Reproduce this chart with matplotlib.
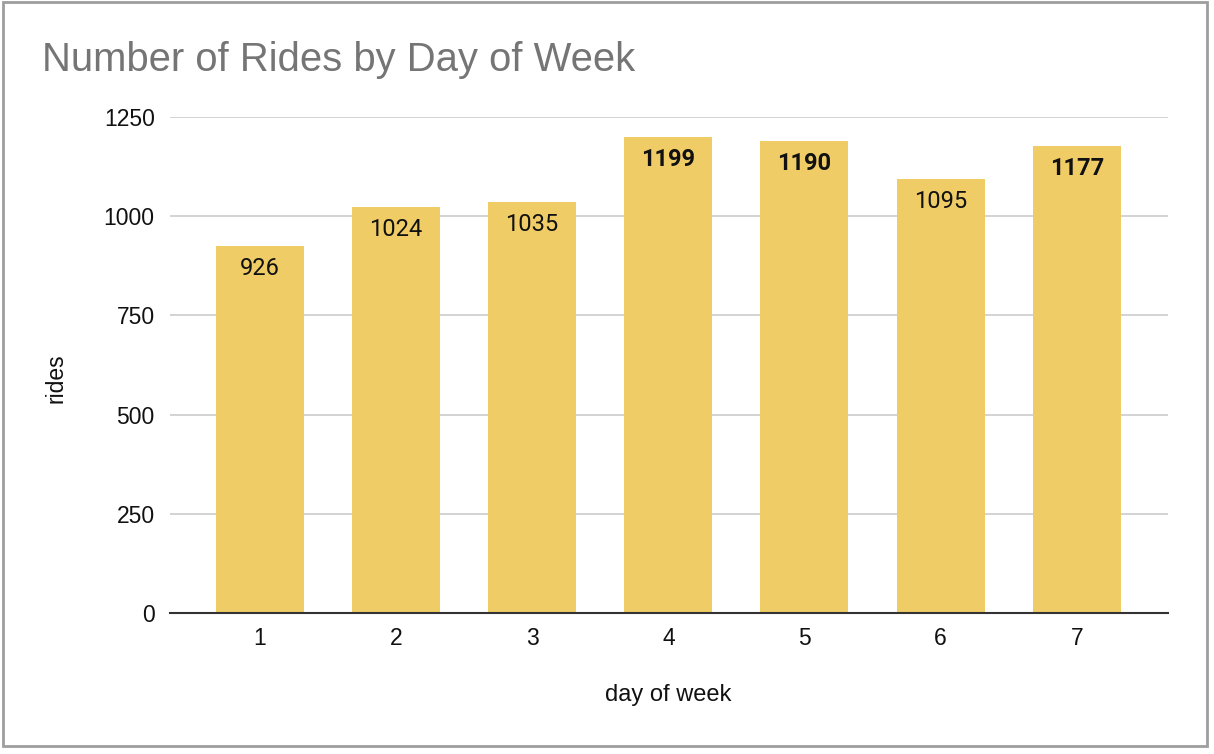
import matplotlib
matplotlib.use("Agg")
import matplotlib.pyplot as plt
from matplotlib.patches import Rectangle

days = ["1", "2", "3", "4", "5", "6", "7"]
rides = [926, 1024, 1035, 1199, 1190, 1095, 1177]
bold_labels = [False, False, False, True, True, False, True]
yticks = [0, 250, 500, 750, 1000, 1250]

W, H = 1214, 754
fig = plt.figure(figsize=(W / 100, H / 100), dpi=100)
fig.patch.set_facecolor("white")

ax = fig.add_axes([170 / W, 1 - 613 / H, (1168 - 170) / W, (613 - 117) / H])
x = list(range(1, len(days) + 1))
ax.bar(x, rides, width=0.646, color="#EFCC66", zorder=2)

for xi, v, bold in zip(x, rides, bold_labels):
    ax.annotate(str(v), (xi, v), xytext=(0, -8), textcoords="offset points",
                ha="center", va="top", fontsize=17, family="Roboto",
                fontweight="bold" if bold else "normal", color="#111111", zorder=3)

ax.set_xlim(0.34, 7.67)
ax.set_ylim(0, 1250)
ax.set_yticks(yticks)
ax.set_yticklabels([str(t) for t in yticks])
ax.set_xticks(x)
ax.set_xticklabels(days)
ax.tick_params(axis="both", length=0, labelsize=16.5, labelcolor="#111111")
ax.tick_params(axis="y", pad=11)
ax.tick_params(axis="x", pad=10)
for lab in ax.get_xticklabels() + ax.get_yticklabels():
    lab.set_family("Liberation Sans")

ax.grid(axis="y", color="#cccccc", linewidth=1.2, zorder=0)
ax.set_axisbelow(True)
for s in ["top", "right", "left"]:
    ax.spines[s].set_visible(False)
ax.spines["bottom"].set_color("#333333")
ax.spines["bottom"].set_linewidth(1.5)
ax.spines["bottom"].set_zorder(4)

ax.set_xlabel("day of week", fontsize=17, family="Liberation Sans", color="#111111", va="center")
ax.xaxis.set_label_coords((668 - 170) / 998, -(695 - 613) / 496)
ax.set_ylabel("rides", fontsize=16.5, family="Liberation Sans", color="#111111", va="center")
ax.yaxis.set_label_coords(-(170 - 56) / 998, (613 - 378) / 496)

fig.text(42 / W, 1 - 60 / H, "Number of Rides by Day of Week", fontsize=28.8,
         family="Liberation Sans", color="#757575", ha="left", va="center")

fig.patches.append(Rectangle((3 / W, 1 - 746 / H), (1207 - 3) / W, (746 - 2) / H,
                             transform=fig.transFigure, fill=False,
                             edgecolor="#9e9e9e", linewidth=2))

fig.savefig("out.png", dpi=100)
